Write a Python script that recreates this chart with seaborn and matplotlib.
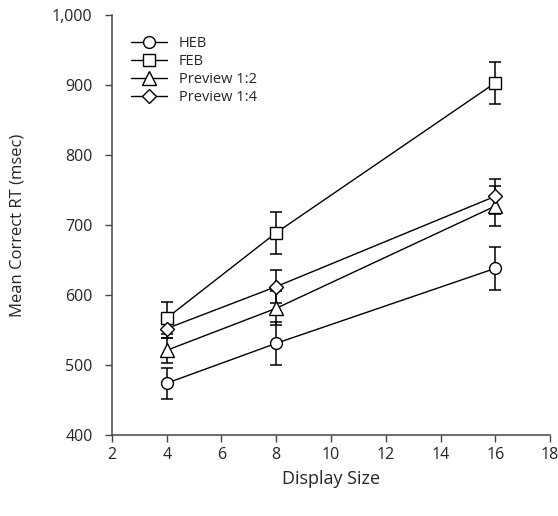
import numpy as np
import pandas as pd
import matplotlib
matplotlib.use('Agg')
import matplotlib.pyplot as plt
import seaborn as sns

# Данные
display_size = [4, 8, 16]
conditions = ['HEB', 'FEB', 'Preview 1:2', 'Preview 1:4']
markers = ['o', 's', '^', 'D']

heb_rt = [474, 531, 638]
feb_rt = [567, 689, 903]
prev12_rt = [521, 581, 727]
prev14_rt = [552, 612, 741]

heb_err = [22, 31, 31]
feb_err = [23, 30, 30]
prev12_err = [18, 24, 28]
prev14_err = [13, 24, 25]

rts = [heb_rt, feb_rt, prev12_rt, prev14_rt]
errs = [heb_err, feb_err, prev12_err, prev14_err]

sns.set_style('ticks')
plt.rcParams['font.family'] = ['Open Sans', 'DejaVu Sans']

fig = plt.figure(figsize=(5.58, 5.16), dpi=100)
ax = fig.add_axes([0.2007, 0.157, 0.785, 0.814])

for name, mk, rt, err in zip(conditions, markers, rts, errs):
    df = pd.DataFrame({'size': display_size, 'rt': rt})
    ax.errorbar(display_size, rt, yerr=err, fmt='none', ecolor='black',
                elinewidth=1.1, capsize=4.5, capthick=1.1, zorder=2)
    ms = 8.5 if mk != 'D' else 7
    if mk == '^':
        ms = 9.5
    sns.lineplot(data=df, x='size', y='rt', ax=ax, color='black',
                 linewidth=1.0, marker=mk, markersize=ms,
                 markerfacecolor='white', markeredgecolor='black',
                 markeredgewidth=1.0, label=name, zorder=3)

ax.set_xlim(2, 18)
ax.set_ylim(400, 1000)
ax.set_xticks(np.arange(2, 19, 2))
ax.set_yticks(np.arange(400, 1001, 100))
ax.set_yticklabels(['400', '500', '600', '700', '800', '900', '1,000'])
ax.set_xlabel('Display Size', fontsize=13, labelpad=5)
ax.set_ylabel('Mean Correct RT (msec)', fontsize=12, labelpad=19)
ax.tick_params(labelsize=11.5, length=5, width=1, color='#444444')
ax.tick_params(axis='x', pad=4)
ax.tick_params(axis='y', pad=9)
for s in ['left', 'bottom']:
    ax.spines[s].set_color('#444444')
    ax.spines[s].set_linewidth(1.1)
sns.despine(ax=ax)

ax.legend(loc='upper left', bbox_to_anchor=(0.02, 0.975), frameon=False,
          fontsize=10.5, handlelength=2.5, labelspacing=0.22, handletextpad=0.8,
          borderaxespad=0.3)

fig.savefig('out.png', dpi=100)
